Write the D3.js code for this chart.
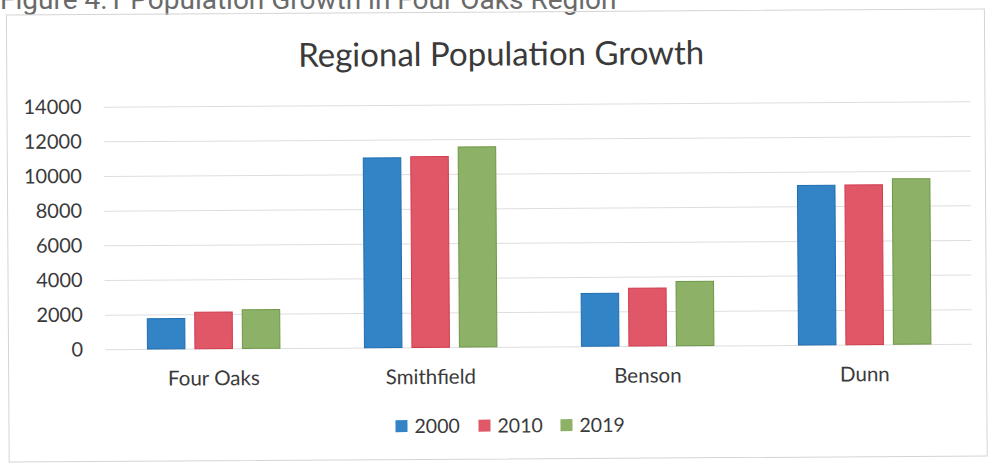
<!DOCTYPE html>
<html>
<head>
<meta charset="utf-8">
<script src="https://cdn.jsdelivr.net/npm/d3@7"></script>
<style>
  html, body { margin: 0; padding: 0; background: #fff; }
  svg { display: block; }
</style>
</head>
<body>
<svg id="chart" width="990" height="463"></svg>
<script>
// ---- data ----
const categories = ["Four Oaks", "Smithfield", "Benson", "Dunn"];
const years = ["2000", "2010", "2019"];
const values2000 = [1750, 10950, 3050, 9200];
const values2010 = [2100, 11000, 3330, 9220];
const values2019 = [2230, 11550, 3700, 9550];
const yTicks = [0, 2000, 4000, 6000, 8000, 10000, 12000, 14000];
const seriesValues = [values2000, values2010, values2019];
const colors = ["#3384c6", "#e05868", "#8db267"];
const strokes = ["#1f6db2", "#d23a4e", "#6e9646"];

const svg = d3.select("#chart");
const font = "Lato, 'Open Sans', sans-serif";

// page caption (partly cut off at the top, as in the scan)
svg.append("text")
  .attr("x", 0).attr("y", 9)
  .attr("font-family", "Roboto, sans-serif")
  .attr("font-size", 28)
  .attr("fill", "#6a6a6a")
  .text("Figure 4.1 Population Growth in Four Oaks Region");

const g = svg.append("g").attr("transform", "rotate(-0.36,106,349.3)");

// chart border
g.append("rect")
  .attr("x", 8.5).attr("y", 14.5).attr("width", 978).attr("height", 447)
  .attr("fill", "none").attr("stroke", "#d4d4d4").attr("stroke-width", 1);

const x0 = d3.scaleBand().domain(categories).range([105.2, 973.2]).padding(0);
const x1 = d3.scaleBand().domain(years).range([0, x0.bandwidth()])
  .paddingInner(0.21).paddingOuter(0.89);
const y = d3.scaleLinear().domain([0, 14000]).range([349.3, 106.7]);

// gridlines
g.append("g").selectAll("line").data(yTicks).join("line")
  .attr("x1", 105).attr("x2", 972)
  .attr("y1", d => y(d) + 0.5).attr("y2", d => y(d) + 0.5)
  .attr("stroke", "#dedede").attr("stroke-width", 1);

// y axis labels
const yAxis = d3.axisLeft(y).tickValues(yTicks).tickSize(0).tickPadding(0)
  .tickFormat(d3.format("d"));
const ya = g.append("g").attr("transform", "translate(83,0)").call(yAxis);
ya.select(".domain").remove();
ya.selectAll("text").attr("font-family", font).attr("font-size", 20)
  .attr("fill", "#3a3a3a");

// bars
const rows = categories.map((c, i) => ({ cat: c, vals: years.map((yr, j) => ({ yr, j, v: seriesValues[j][i] })) }));
g.append("g").selectAll("g").data(rows).join("g")
  .attr("transform", d => `translate(${x0(d.cat)},0)`)
  .selectAll("rect").data(d => d.vals).join("rect")
  .attr("x", d => x1(d.yr)).attr("width", x1.bandwidth())
  .attr("y", d => y(d.v)).attr("height", d => y(0) - y(d.v))
  .attr("fill", d => colors[d.j]).attr("stroke", d => strokes[d.j]).attr("stroke-width", 1);

// x axis labels
const xAxis = d3.axisBottom(x0).tickSize(0).tickPadding(0);
const xa = g.append("g").attr("transform", "translate(0,386)").call(xAxis);
xa.select(".domain").remove();
xa.selectAll("text").attr("font-family", font).attr("font-size", 20.5)
  .attr("fill", "#3a3a3a").attr("dy", 0);

// title
g.append("text")
  .attr("x", 503).attr("y", 68)
  .attr("text-anchor", "middle")
  .attr("font-family", font).attr("font-size", 33)
  .attr("fill", "#3a3a3a")
  .text("Regional Population Growth");

// legend
const legendX = [395, 478, 560];
const lg = g.append("g").selectAll("g").data(years).join("g")
  .attr("transform", (d, i) => `translate(${legendX[i]},${428})`);
lg.append("rect").attr("x", 0).attr("y", -6).attr("width", 12).attr("height", 12)
  .attr("fill", (d, i) => colors[i]);
lg.append("text").attr("x", 19).attr("y", 7)
  .attr("font-family", font).attr("font-size", 19.5).attr("fill", "#3a3a3a")
  .text(d => d);
</script>
</body>
</html>
